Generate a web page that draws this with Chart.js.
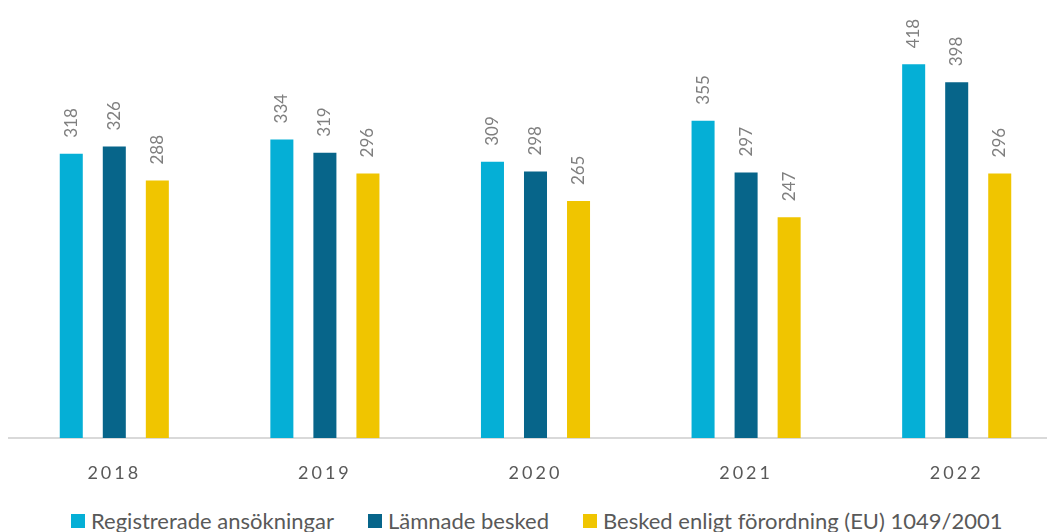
<!DOCTYPE html>
<html lang="sv">
<head>
    <meta charset="UTF-8">
    <title>Ansökningar och besked 2018-2022</title>
    <style>
        * {
            margin: 0;
            padding: 0;
            box-sizing: border-box;
        }

        body {
            width: 1047px;
            height: 532px;
            overflow: hidden;
            background: #fff;
            font-family: Lato, sans-serif;
            position: relative;
        }

        .chart-box {
            position: absolute;
            left: 0;
            top: 0;
            width: 1064px;
            height: 490px;
        }

        .legend {
            position: absolute;
            left: 71px;
            top: 507px;
            display: flex;
            font-size: 22px;
            line-height: 28px;
            color: #595959;
            white-space: nowrap;
        }

        .legend span {
            display: flex;
            align-items: center;
            margin-right: 34px;
        }

        .legend i {
            display: inline-block;
            width: 14px;
            height: 14px;
            margin-right: 6px;
        }
    </style>
    <script src="https://cdn.jsdelivr.net/npm/chart.js"></script>
</head>
<body>
    <div class="chart-box">
        <canvas id="besked"></canvas>
    </div>
    <div class="legend" id="legend"></div>

    <script>
        const years = ['2018', '2019', '2020', '2021', '2022'];
        const registrerade = [318, 334, 309, 355, 418];
        const lamnade = [326, 319, 298, 297, 398];
        const forordning = [288, 296, 265, 247, 296];

        const seriesNames = ['Registrerade ansökningar', 'Lämnade besked', 'Besked enligt förordning (EU) 1049/2001'];
        const seriesColors = ['#05afd6', '#07658a', '#f0c500'];

        // rotated value labels above bars
        const valueLabels = {
            id: 'valueLabels',
            beforeDraw(chart) {
                chart.ctx.letterSpacing = '3px';
            },
            beforeDatasetsDraw(chart) {
                chart.ctx.letterSpacing = '0px';
            },
            afterDatasetsDraw(chart) {
                const ctx = chart.ctx;
                ctx.save();
                ctx.font = '17px Lato, sans-serif';
                ctx.fillStyle = '#7f7f7f';
                ctx.textAlign = 'left';
                ctx.textBaseline = 'middle';
                chart.data.datasets.forEach((ds, i) => {
                    chart.getDatasetMeta(i).data.forEach((bar, j) => {
                        ctx.save();
                        ctx.translate(bar.x, bar.y - 16);
                        ctx.rotate(-Math.PI / 2);
                        ctx.fillText(ds.data[j], 0, 0);
                        ctx.restore();
                    });
                });
                ctx.restore();
            }
        };

        const ctx = document.getElementById('besked').getContext('2d');
        new Chart(ctx, {
            type: 'bar',
            data: {
                labels: years,
                datasets: [
                    { label: seriesNames[0], data: registrerade, backgroundColor: seriesColors[0] },
                    { label: seriesNames[1], data: lamnade, backgroundColor: seriesColors[1] },
                    { label: seriesNames[2], data: forordning, backgroundColor: seriesColors[2] }
                ]
            },
            options: {
                responsive: true,
                maintainAspectRatio: false,
                animation: false,
                categoryPercentage: 0.613,
                barPercentage: 0.535,
                layout: { padding: { left: 9, right: 2, top: 0, bottom: 0 } },
                plugins: {
                    legend: { display: false },
                    tooltip: { enabled: false }
                },
                scales: {
                    x: {
                        grid: { display: false },
                        border: { display: true, color: '#d9d9d9', width: 2 },
                        ticks: {
                            color: '#595959',
                            font: { family: 'Lato, sans-serif', size: 18 },
                            padding: 16
                        },
                        afterFit(scale) { scale.height = 52; }
                    },
                    y: {
                        display: false,
                        min: 0,
                        max: 490
                    }
                }
            },
            plugins: [valueLabels]
        });

        const legend = document.getElementById('legend');
        seriesNames.forEach((name, i) => {
            const item = document.createElement('span');
            item.innerHTML = '<i style="background:' + seriesColors[i] + '"></i>' + name;
            legend.appendChild(item);
        });
    </script>
</body>
</html>
